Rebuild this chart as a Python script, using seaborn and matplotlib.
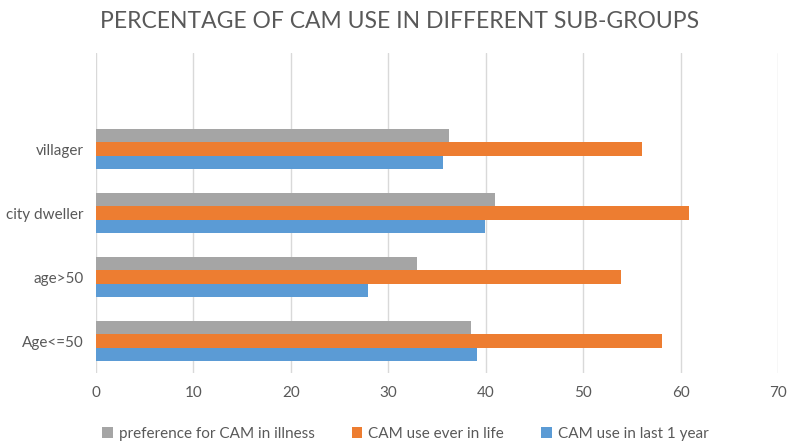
import matplotlib
matplotlib.use("Agg")
import matplotlib.pyplot as plt
import pandas as pd
import seaborn as sns

# data
GROUPS = ["villager", "city dweller", "age>50", "Age<=50"]
SERIES = ["preference for CAM in illness", "CAM use ever in life", "CAM use in last 1 year"]
PREFERENCE_IN_ILLNESS = [36.2, 40.9, 32.9, 38.5]
EVER_IN_LIFE = [56.0, 60.9, 53.9, 58.1]
LAST_1_YEAR = [35.6, 39.9, 27.9, 39.1]
X_TICKS = [0, 10, 20, 30, 40, 50, 60, 70]

COLORS = ["#A5A5A5", "#ED7D31", "#5B9BD5"]
TEXT_COLOR = "#595959"
GRID_COLOR = "#D9D9D9"

data = pd.DataFrame({
    "group": GROUPS * 3,
    "series": [SERIES[0]] * 4 + [SERIES[1]] * 4 + [SERIES[2]] * 4,
    "value": PREFERENCE_IN_ILLNESS + EVER_IN_LIFE + LAST_1_YEAR,
})

sns.set_theme(style="white")
plt.rcParams["font.family"] = ["Lato", "DejaVu Sans"]

fig = plt.figure(figsize=(7.87, 4.43), dpi=100)
ax = fig.add_axes([0.122, 0.158, 0.8666, 0.722])

sns.barplot(
    data=data, x="value", y="group", hue="series",
    order=GROUPS, hue_order=SERIES, palette=COLORS, saturation=1,
    orient="h", width=0.625, linewidth=0, ax=ax, legend=True,
)

ax.set_xlim(0, 70)
ax.set_ylim(3.5, -1.5)  # one empty slot above the first group
ax.set_xticks(X_TICKS)
ax.set_xlabel("")
ax.set_ylabel("")
ax.xaxis.grid(True, color=GRID_COLOR, linewidth=1.0)
ax.set_axisbelow(True)
for s in ax.spines.values():
    s.set_visible(False)
ax.tick_params(axis="both", length=0, labelsize=11, colors=TEXT_COLOR, pad=9)

handles, labels = ax.get_legend_handles_labels()
ax.legend_.remove()
fig.legend(
    handles, labels, loc="center", bbox_to_anchor=(0.515, 0.02), ncol=3,
    frameon=False, fontsize=11, labelcolor=TEXT_COLOR,
    handlelength=0.7, handleheight=0.7, handletextpad=0.4, columnspacing=2.4,
)

fig.text(0.508, 0.951, "PERCENTAGE OF CAM USE IN DIFFERENT SUB-GROUPS",
         ha="center", va="center", fontsize=16.5, color=TEXT_COLOR)

fig.savefig("out.png", dpi=100)
